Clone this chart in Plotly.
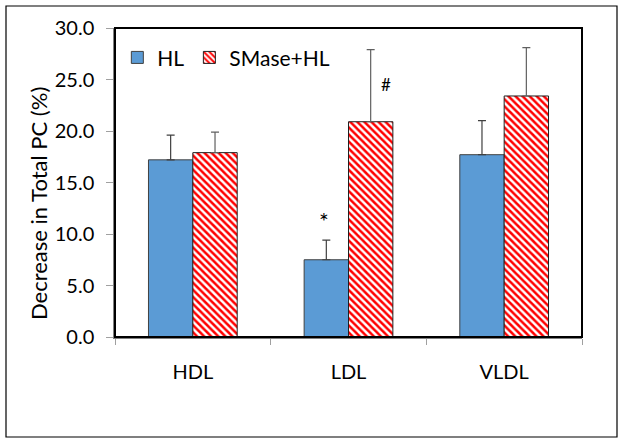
import plotly.graph_objects as go

categories = ["HDL", "LDL", "VLDL"]
hl_values = [17.2, 7.5, 17.7]
hl_errors = [2.4, 1.9, 3.3]
smase_values = [17.9, 20.9, 23.4]
smase_errors = [2.0, 7.0, 4.7]
y_ticks = [0, 5, 10, 15, 20, 25, 30]
y_tick_labels = ["0.0", "5.0", "10.0", "15.0", "20.0", "25.0", "30.0"]

FONT = "Lato, 'Open Sans', sans-serif"

fig = go.Figure()
fig.add_trace(go.Bar(
    name="HL", x=categories, y=hl_values,
    marker=dict(color="#5B9BD5", line=dict(color="#404040", width=1)),
    error_y=dict(type="data", array=hl_errors, arrayminus=[0, 0, 0],
                 symmetric=False, color="#404040", thickness=1.2, width=4),
))
fig.add_trace(go.Bar(
    name="SMase+HL", x=categories, y=smase_values,
    marker=dict(color="white", line=dict(color="#202020", width=1),
                pattern=dict(shape="\\", fgcolor="#FF0000", bgcolor="white",
                             size=5, solidity=0.5, fillmode="replace")),
    error_y=dict(type="data", array=smase_errors, arrayminus=[0, 0, 0],
                 symmetric=False, color="#606060", thickness=1.2, width=4),
))

# significance markers
fig.add_annotation(x=categories[1], y=hl_values[1] + hl_errors[1] + 1.9, text="*",
                   showarrow=False, xshift=-25, font=dict(size=23, color="black", family=FONT))
fig.add_annotation(x=categories[1], y=smase_values[1] + 3.6, text="#",
                   showarrow=False, xshift=37, font=dict(size=17, color="black", family=FONT))

L, R, T, B = 115, 42, 28, 107
W, H = 624, 444
pw, ph = W - L - R, H - T - B

# y-axis title (placed like the original, slightly below centre)
fig.add_annotation(xref="paper", yref="paper", x=(38 - L) / pw, y=(H - B - 204) / ph,
                   text="Decrease in Total PC (%)", textangle=-90, showarrow=False,
                   xanchor="center", yanchor="middle",
                   font=dict(size=22, color="black", family=FONT))

# outer frame
fig.add_shape(type="rect", xref="paper", yref="paper",
              x0=(6 - L) / pw, x1=(617 - L) / pw,
              y0=(H - B - 437) / ph, y1=(H - B - 6) / ph,
              line=dict(color="black", width=1.2), layer="below")
# plot frame
fig.add_shape(type="rect", xref="paper", yref="paper", x0=0, x1=1, y0=0, y1=1,
              line=dict(color="black", width=2))

fig.update_layout(
    width=W, height=H,
    margin=dict(l=L, r=R, t=T, b=B),
    paper_bgcolor="white", plot_bgcolor="white",
    barmode="group", bargap=0.43, bargroupgap=0,
    font=dict(family=FONT, color="black"),
    showlegend=True,
    legend=dict(orientation="h", x=0.005, y=0.97, xanchor="left", yanchor="top",
                font=dict(size=21, family=FONT), bgcolor="rgba(0,0,0,0)",
                itemwidth=30, tracegroupgap=0),
    xaxis=dict(showline=True, linecolor="#808080", linewidth=1.5,
               ticks="outside", ticklen=6, tickcolor="#a0a0a0",
               tickson="boundaries", tickfont=dict(size=20, family=FONT),
               showgrid=False, ticklabelstandoff=16),
    yaxis=dict(range=[0, 30], tickvals=y_ticks, ticktext=y_tick_labels,
               showline=True, linecolor="#808080", linewidth=1.5,
               ticks="outside", ticklen=7, tickcolor="#a0a0a0",
               tickfont=dict(size=20, family=FONT), showgrid=False, zeroline=False,
               ticklabelstandoff=8),
)

fig.write_html("out.html", config={"displayModeBar": False},
               post_script="document.body.style.margin='0';")
